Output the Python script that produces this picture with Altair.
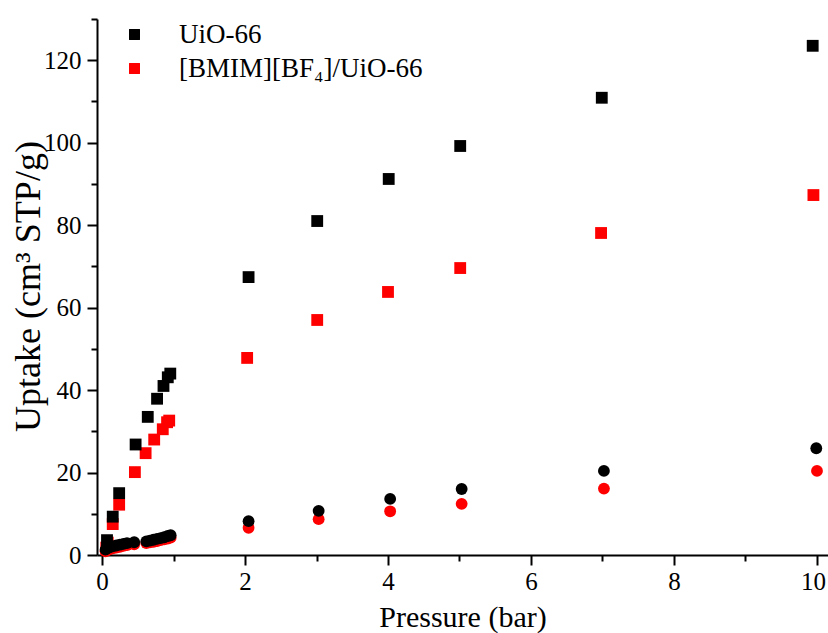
import altair as alt
import pandas as pd

# Pressure (bar) and uptake (cm3 STP/g) for the two samples
uio_sq_p = [0.07, 0.15, 0.24, 0.47, 0.64, 0.77, 0.86, 0.92, 0.955, 2.05, 3.01, 4.01, 5.01, 6.99, 9.94]
uio_sq_v = [3.6, 9.3, 15.0, 26.8, 33.5, 37.9, 41.0, 43.1, 44.0, 67.4, 81.0, 91.2, 99.2, 110.9, 123.5]

il_sq_p = [0.06, 0.08, 0.15, 0.24, 0.46, 0.61, 0.73, 0.85, 0.91, 0.94, 2.03, 3.01, 4.0, 5.01, 6.98, 9.95]
il_sq_v = [1.8, 3.0, 7.5, 12.2, 20.1, 24.7, 28.0, 30.5, 32.2, 32.6, 47.8, 57.0, 63.8, 69.6, 78.1, 87.3]

uio_ci_p = [0.05, 0.1, 0.15, 0.2, 0.25, 0.3, 0.35, 0.45, 0.62, 0.67, 0.72, 0.77, 0.82, 0.87, 0.92, 0.96,
            2.05, 3.03, 4.03, 5.03, 7.02, 9.99]
uio_ci_v = [1.3, 1.8, 2.1, 2.3, 2.5, 2.7, 2.9, 3.1, 3.3, 3.5, 3.7, 3.9, 4.1, 4.3, 4.6, 4.8,
            8.2, 10.7, 13.6, 16.0, 20.4, 25.9]

il_ci_p = [0.05, 0.1, 0.15, 0.2, 0.25, 0.3, 0.35, 0.45, 0.62, 0.67, 0.72, 0.77, 0.82, 0.87, 0.92, 0.96,
           2.05, 3.03, 4.03, 5.03, 7.02, 10.0]
il_ci_v = [0.9, 1.3, 1.6, 1.8, 2.0, 2.2, 2.4, 2.6, 2.9, 3.1, 3.2, 3.4, 3.6, 3.8, 4.0, 4.2,
           6.6, 8.7, 10.6, 12.4, 16.1, 20.4]

materials = ["UiO-66", "[BMIM][BF₄]/UiO-66"]
colors = ["#000000", "#ff0000"]

frames = []
for mat, kind, ps, vs in [
    (materials[0], "square", uio_sq_p, uio_sq_v),
    (materials[0], "circle", uio_ci_p, uio_ci_v),
    (materials[1], "square", il_sq_p, il_sq_v),
    (materials[1], "circle", il_ci_p, il_ci_v),
]:
    frames.append(pd.DataFrame({"pressure": ps, "uptake": vs, "material": mat, "marker": kind}))
df = pd.concat(frames, ignore_index=True)

FONT = "Liberation Serif"

x_axis = alt.Axis(
    values=list(range(0, 11)),
    labelExpr="datum.value % 2 === 0 ? datum.label : ''",
    labelOffset={"expr": "datum.value === 10 ? -4 : 0"},
    tickSize={"expr": "datum.value % 2 === 0 ? 10 : 6"},
    labelPadding=4,
    title="Pressure (bar)",
    titleFontSize=30,
    titleBaseline="alphabetic",
    titleY=71,
)
y_axis = alt.Axis(
    values=list(range(0, 131, 10)),
    labelExpr="datum.value % 20 === 0 ? datum.label : ''",
    tickSize={"expr": "datum.value % 20 === 0 ? 10 : 6"},
    labelPadding=6,
    title="Uptake (cm³ STP/g)",
    titleFontSize=36,
    titleBaseline="middle",
    titleAlign="center",
    titleX=-69,
    titleY=267,
)

chart = (
    alt.Chart(df)
    .mark_point(filled=True, opacity=1, size=140)
    .encode(
        x=alt.X("pressure:Q", scale=alt.Scale(domain=[-0.07, 10.154], nice=False, zero=False), axis=x_axis),
        y=alt.Y("uptake:Q", scale=alt.Scale(domain=[0, 130], nice=False), axis=y_axis),
        color=alt.Color(
            "material:N",
            scale=alt.Scale(domain=materials, range=colors),
            legend=alt.Legend(
                orient="none",
                legendX=24,
                legendY=2,
                title=None,
                symbolType="square",
                symbolSize=120,
                symbolOpacity=1,
                symbolStrokeWidth=0,
                labelFont=FONT,
                labelFontSize=27,
                labelColor="#000000",
                labelOffset=31,
                rowPadding=6,
                padding=0,
                labelLimit=400,
            ),
        ),
        shape=alt.Shape(
            "marker:N",
            scale=alt.Scale(domain=["square", "circle"], range=["square", "circle"]),
            legend=None,
        ),
        order=alt.Order("material:N", sort="descending"),
    )
    .properties(
        width=731,
        height=536,
        background="#ffffff",
        autosize=alt.AutoSizeParams(type="none"),
        padding={"left": 97, "top": 19, "right": 0, "bottom": 78},
    )
    .configure_view(stroke=None)
    .configure_axis(
        grid=False,
        domainColor="#000000",
        domainWidth=2,
        tickColor="#000000",
        tickWidth=2,
        labelFont=FONT,
        labelFontSize=25,
        labelColor="#000000",
        titleFont=FONT,
        titleFontWeight="normal",
        titleColor="#000000",
    )
)

chart.save("out.html", embed_options={"renderer": "svg", "actions": False})
